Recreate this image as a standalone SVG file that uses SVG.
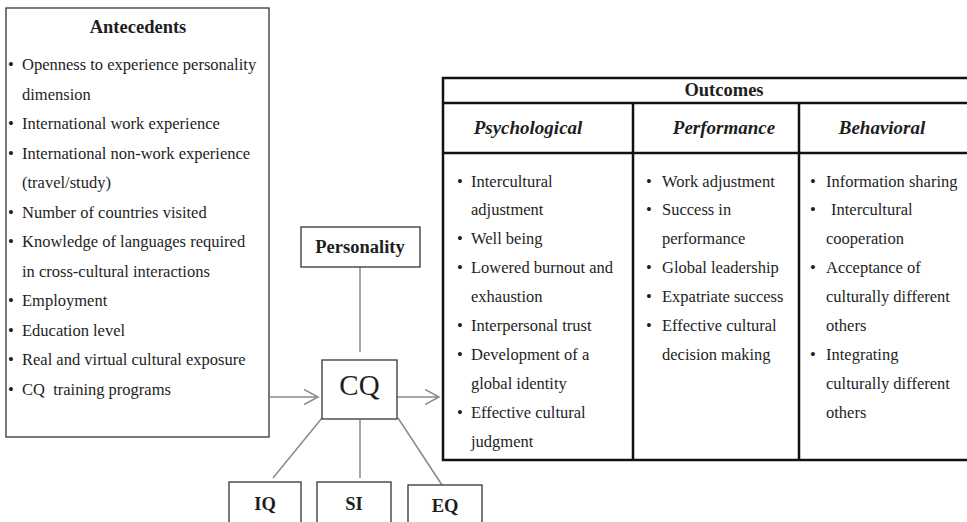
<svg xmlns="http://www.w3.org/2000/svg" width="967" height="522" viewBox="0 0 967 522">
<style>
text{font-family:"Liberation Serif","Times New Roman",serif;fill:#1e1e1e}
.b{font-size:16.5px}
.h{font-size:18.5px;font-weight:bold;text-anchor:middle}
.hi{font-size:19px;font-weight:bold;font-style:italic;text-anchor:middle}
.box{fill:#fff;stroke:#333;stroke-width:1.3}
.tb{fill:none;stroke:#111;stroke-width:2.5}
.con{fill:none;stroke:#8a8a8a;stroke-width:1.5}
</style>
<defs>
<marker id="ah" markerWidth="16" markerHeight="18" refX="14" refY="9" orient="auto" markerUnits="userSpaceOnUse">
<path d="M0,1.5 L14,9 L0,16.5" fill="none" stroke="#8a8a8a" stroke-width="1.5"/>
</marker>
</defs>
<rect width="967" height="522" fill="#fff"/>

<g id="antecedents">
<rect class="box" x="6" y="8" width="263" height="429"/>
<text class="h" x="138" y="33">Antecedents</text>
<g class="b">
<text x="8" y="70">•</text><text x="22" y="70">Openness to experience personality</text>
<text x="22" y="99.5">dimension</text>
<text x="8" y="129">•</text><text x="22" y="129">International work experience</text>
<text x="8" y="158.5">•</text><text x="22" y="158.5">International non-work experience</text>
<text x="22" y="188">(travel/study)</text>
<text x="8" y="217.5">•</text><text x="22" y="217.5">Number of countries visited</text>
<text x="8" y="247">•</text><text x="22" y="247">Knowledge of languages required</text>
<text x="22" y="276.5">in cross-cultural interactions</text>
<text x="8" y="306">•</text><text x="22" y="306">Employment</text>
<text x="8" y="335.5">•</text><text x="22" y="335.5">Education level</text>
<text x="8" y="365">•</text><text x="22" y="365">Real and virtual cultural exposure</text>
<text x="8" y="394.5">•</text><text x="22" y="394.5" xml:space="preserve">CQ  training programs</text>
</g>
</g>

<g id="connectors">
<line class="con" x1="270" y1="397" x2="318" y2="397" marker-end="url(#ah)"/>
<line class="con" x1="397" y1="397" x2="439" y2="397" marker-end="url(#ah)"/>
<line class="con" x1="360" y1="267" x2="360" y2="352"/>
<line class="con" x1="322" y1="418" x2="273" y2="478"/>
<line class="con" x1="360" y1="420" x2="360" y2="478"/>
<line class="con" x1="398" y1="418" x2="442" y2="485"/>
</g>

<g id="personality">
<rect class="box" x="301" y="227" width="119" height="40"/>
<text class="h" x="360" y="253">Personality</text>
</g>

<g id="cq">
<rect class="box" x="322" y="360" width="75" height="59"/>
<text x="359.5" y="395" font-size="29" text-anchor="middle">CQ</text>
</g>

<g id="iq">
<rect class="box" x="229" y="482" width="72" height="50"/>
<text class="h" x="265" y="510">IQ</text>
</g>
<g id="si">
<rect class="box" x="317" y="482" width="74" height="50"/>
<text class="h" x="354" y="510">SI</text>
</g>
<g id="eq">
<rect class="box" x="408" y="485" width="74" height="50"/>
<text class="h" x="445" y="512">EQ</text>
</g>

<g id="outcomes">
<rect class="tb" x="443" y="78" width="530" height="382"/>
<line class="tb" x1="443" y1="103" x2="967" y2="103"/>
<line class="tb" x1="443" y1="153" x2="967" y2="153"/>
<line class="tb" x1="633" y1="103" x2="633" y2="460"/>
<line class="tb" x1="799" y1="103" x2="799" y2="460"/>
<text class="h" x="724" y="96">Outcomes</text>
<text class="hi" x="528" y="134">Psychological</text>
<text class="hi" x="724" y="134">Performance</text>
<text class="hi" x="882" y="134">Behavioral</text>
<g class="b">
<text x="457" y="186.5">•</text><text x="471" y="186.5">Intercultural</text>
<text x="471" y="215.4">adjustment</text>
<text x="457" y="244.3">•</text><text x="471" y="244.3">Well being</text>
<text x="457" y="273.2">•</text><text x="471" y="273.2">Lowered burnout and</text>
<text x="471" y="302.1">exhaustion</text>
<text x="457" y="331">•</text><text x="471" y="331">Interpersonal trust</text>
<text x="457" y="359.9">•</text><text x="471" y="359.9">Development of a</text>
<text x="471" y="388.8">global identity</text>
<text x="457" y="417.7">•</text><text x="471" y="417.7">Effective cultural</text>
<text x="471" y="446.6">judgment</text>

<text x="646" y="186.5">•</text><text x="662" y="186.5">Work adjustment</text>
<text x="646" y="215.4">•</text><text x="662" y="215.4">Success in</text>
<text x="662" y="244.3">performance</text>
<text x="646" y="273.2">•</text><text x="662" y="273.2">Global leadership</text>
<text x="646" y="302.1">•</text><text x="662" y="302.1">Expatriate success</text>
<text x="646" y="331">•</text><text x="662" y="331">Effective cultural</text>
<text x="662" y="359.9">decision making</text>

<text x="810" y="186.5">•</text><text x="826" y="186.5">Information sharing</text>
<text x="810" y="215.4">•</text><text x="831" y="215.4">Intercultural</text>
<text x="826" y="244.3">cooperation</text>
<text x="810" y="273.2">•</text><text x="826" y="273.2">Acceptance of</text>
<text x="826" y="302.1">culturally different</text>
<text x="826" y="331">others</text>
<text x="810" y="359.9">•</text><text x="826" y="359.9">Integrating</text>
<text x="826" y="388.8">culturally different</text>
<text x="826" y="417.7">others</text>
</g>
</g>
</svg>
